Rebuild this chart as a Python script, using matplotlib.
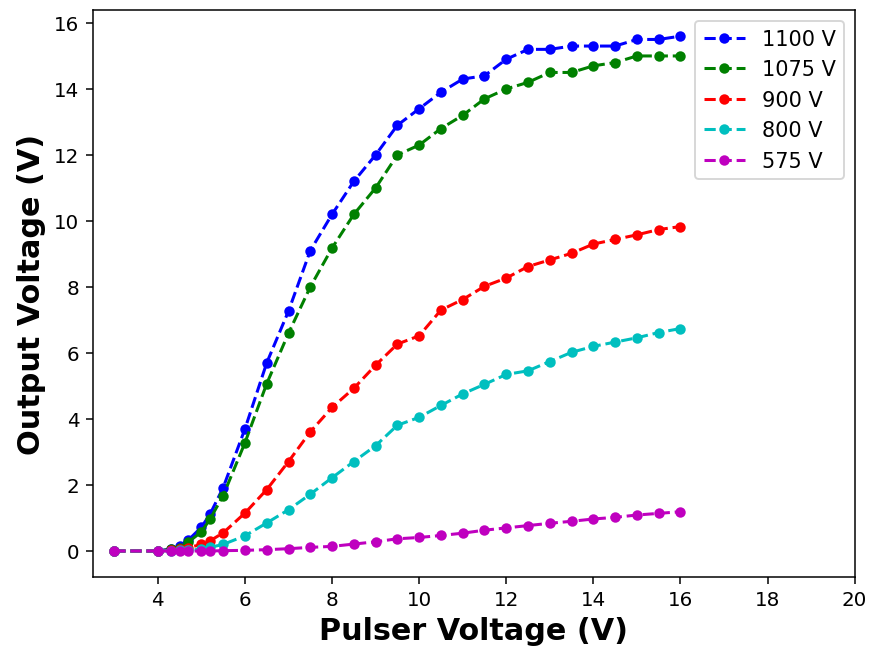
import matplotlib.pyplot as plt

# pulser voltage settings (V)
pulser = [3, 4, 4.3, 4.5, 4.7, 5.0, 5.2, 5.5, 6.0, 6.5, 7.0, 7.5, 8.0, 8.5, 9.0,
          9.5, 10.0, 10.5, 11.0, 11.5, 12.0, 12.5, 13.0, 13.5, 14.0, 14.5,
          15.0, 15.5, 16.0]

# output voltage at each bias (V)
out_1100 = [0, 0, 0.06, 0.16, 0.33, 0.72, 1.12, 1.92, 3.7, 5.7, 7.27, 9.1,
            10.2, 11.2, 12.0, 12.9, 13.4, 13.9, 14.3, 14.4, 14.9, 15.2, 15.2,
            15.3, 15.3, 15.3, 15.5, 15.5, 15.6]
out_1075 = [0, 0, 0.05, 0.1, 0.27, 0.58, 0.97, 1.68, 3.28, 5.07, 6.6, 8.0,
            9.18, 10.2, 11.0, 12.0, 12.3, 12.8, 13.2, 13.7, 14.0, 14.2, 14.5,
            14.5, 14.7, 14.8, 15.0, 15.0, 15.0]
out_900 = [0, 0, 0.02, 0.05, 0.1, 0.2, 0.31, 0.55, 1.15, 1.86, 2.71, 3.61,
           4.35, 4.93, 5.63, 6.27, 6.52, 7.3, 7.62, 8.02, 8.27, 8.62, 8.82,
           9.02, 9.3, 9.44, 9.58, 9.74, 9.83]
out_800 = [0, 0, 0.01, 0.02, 0.03, 0.05, 0.11, 0.2, 0.46, 0.85, 1.25, 1.72,
           2.22, 2.71, 3.19, 3.81, 4.05, 4.41, 4.76, 5.05, 5.35, 5.46, 5.74,
           6.02, 6.2, 6.33, 6.46, 6.62, 6.74]
out_575 = [0, 0, 0, 0, 0, 0, 0, 0.01, 0.02, 0.04, 0.07, 0.11, 0.14, 0.21,
           0.28, 0.37, 0.41, 0.47, 0.54, 0.63, 0.7, 0.77, 0.84, 0.9, 0.97,
           1.02, 1.09, 1.14, 1.19]

series = [("1100 V", out_1100, "b"), ("1075 V", out_1075, "g"),
          ("900 V", out_900, "r"), ("800 V", out_800, "c"),
          ("575 V", out_575, "m")]

fig, ax = plt.subplots(figsize=(6.4, 4.8), dpi=136.4)
fig.subplots_adjust(left=0.106, right=0.979, top=0.983, bottom=0.118)

for label, values, color in series:
    ax.plot(pulser, values, "--o", color=color, lw=1.6, markersize=4.5, label=label)

ax.set_xlim(2.5, 20)
ax.tick_params(labelsize=10.5)
ax.set_xlabel("Pulser Voltage (V)", fontsize=16, fontweight="bold")
ax.set_ylabel("Output Voltage (V)", fontsize=16, fontweight="bold")
ax.legend(loc="upper right", fontsize=11)

fig.savefig("out.png")
